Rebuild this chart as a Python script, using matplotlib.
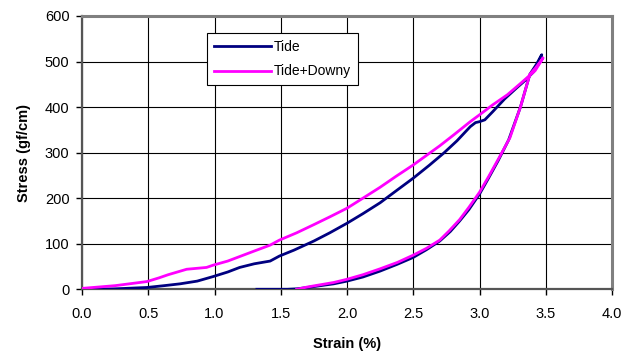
import numpy as np
import matplotlib
matplotlib.use("Agg")
import matplotlib.pyplot as plt

plt.rcParams['font.family'] = ['Liberation Sans', 'DejaVu Sans']

# Tide: loading branch then unloading branch
tide_strain = [0.0, 0.25, 0.49, 0.62, 0.74, 0.87, 0.99, 1.10, 1.19, 1.30, 1.42, 1.49,
               1.60, 1.75, 1.87, 2.0, 2.12, 2.25, 2.37, 2.5, 2.62, 2.73, 2.83, 2.93,
               2.97, 3.0, 3.04, 3.10, 3.19, 3.28, 3.35, 3.41, 3.45, 3.47,
               3.46, 3.43, 3.38, 3.31, 3.22, 3.14, 3.07, 3.0, 2.92, 2.85, 2.78, 2.70,
               2.60, 2.50, 2.38, 2.25, 2.12, 2.0, 1.9, 1.8, 1.7, 1.62, 1.55, 1.32]
tide_stress = [0, 1, 4, 8, 12, 18, 28, 38, 48, 56, 62, 73,
               86, 106, 124, 145, 166, 190, 216, 244, 272, 299, 326, 357,
               366, 368, 372, 390, 418, 442, 460, 478, 502, 515,
               510, 494, 472, 401, 328, 282, 245, 209, 175, 150, 127, 106,
               87, 70, 55, 40, 27, 18, 12, 8, 4, 1, 0, 0]

# Tide+Downy: loading branch then unloading branch
downy_strain = [0.0, 0.25, 0.49, 0.58, 0.65, 0.79, 0.94, 0.99, 1.10, 1.20, 1.30, 1.42,
                1.49, 1.62, 1.75, 1.87, 2.0, 2.12, 2.25, 2.37, 2.5, 2.60, 2.70, 2.81,
                2.93, 3.0, 3.10, 3.21, 3.31, 3.42, 3.48,
                3.46, 3.42, 3.38, 3.31, 3.23, 3.15, 3.07, 3.0, 2.92, 2.85, 2.77, 2.70,
                2.60, 2.50, 2.38, 2.25, 2.12, 2.0, 1.9, 1.8, 1.7, 1.62]
downy_stress = [2, 8, 17, 25, 32, 44, 48, 53, 62, 73, 84, 97,
                108, 124, 142, 159, 178, 200, 224, 248, 273, 294, 315, 340,
                368, 383, 405, 427, 452, 480, 508,
                500, 485, 472, 401, 333, 290, 248, 213, 180, 153, 128, 108,
                90, 75, 59, 45, 32, 22, 15, 10, 5, 0]

fig = plt.figure(figsize=(6.39, 3.55), dpi=100)
ax = fig.add_axes([82/639, 1-289.3/355, 530/639, 273.3/355])

ax.plot(tide_strain, tide_stress, color='#000080', lw=2, label='Tide', zorder=3)
ax.plot(downy_strain, downy_stress, color='#FF00FF', lw=2, label='Tide+Downy', zorder=4)

ax.set_xlim(0, 4.0)
ax.set_ylim(0, 600)
ax.set_xticks(np.arange(0, 4.01, 0.5))
ax.set_xticklabels(['%.1f' % v for v in np.arange(0, 4.01, 0.5)])
ax.set_yticks(np.arange(0, 601, 100))
ax.grid(True, color='black', lw=0.8)
ax.set_axisbelow(True)

for s in ['left', 'bottom']:
    ax.spines[s].set_color('#555555')
    ax.spines[s].set_linewidth(1.6)
for s in ['top', 'right']:
    ax.spines[s].set_color('#808080')
    ax.spines[s].set_linewidth(2.2)

ax.tick_params(direction='out', length=4, width=1, colors='black', labelsize=10.5)
ax.tick_params(axis='x', pad=9)
ax.tick_params(axis='y', pad=5)
ax.set_xlabel('Strain (%)', fontsize=10.5, fontweight='bold', labelpad=11)
ax.set_ylabel('Stress (gf/cm)', fontsize=10.5, fontweight='bold', labelpad=10)

leg = ax.legend(loc='upper left', bbox_to_anchor=(207/639, 1-33/355), bbox_transform=fig.transFigure,
                frameon=True, fancybox=False, edgecolor='black', fontsize=10,
                handlelength=4.1, handletextpad=0.2, borderpad=0.5, labelspacing=0.75,
                borderaxespad=0)
leg.get_frame().set_linewidth(0.8)
leg.get_frame().set_alpha(1)

fig.savefig('out.png', dpi=100)
